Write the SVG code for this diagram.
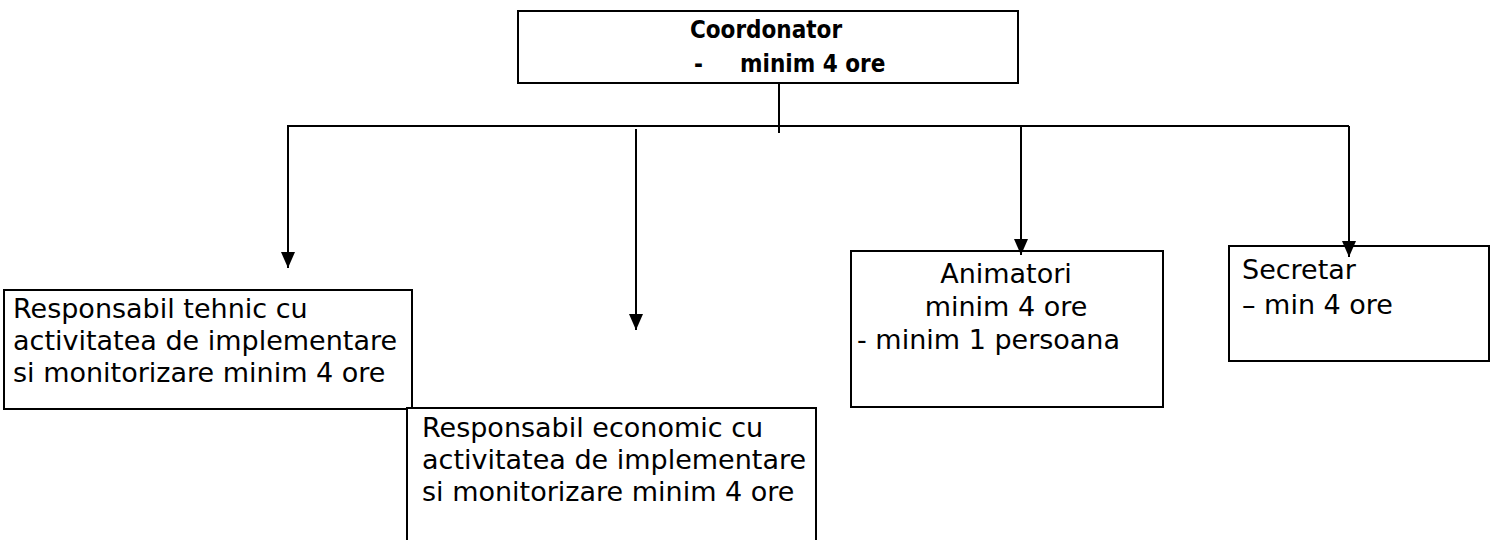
<svg xmlns="http://www.w3.org/2000/svg" width="1499" height="540" viewBox="0 0 1499 540">
<style>
.box{fill:#fff;stroke:#000;stroke-width:2}
.t{font-family:"DejaVu Sans","Liberation Sans",sans-serif;font-size:27px;fill:#000}
.b{font-family:"DejaVu Sans Condensed","DejaVu Sans",sans-serif;font-size:24px;font-weight:bold;fill:#000}
.c{stroke:#000;stroke-width:2;fill:none}
</style>
<defs>
<marker id="ah" viewBox="0 0 16 14" refX="16" refY="7" markerWidth="16" markerHeight="14" markerUnits="userSpaceOnUse" orient="auto">
<path d="M0,0 L16,7 L0,14 Z" fill="#000"/>
</marker>
</defs>
<rect width="1499" height="540" fill="#fff"/>
<g id="coordonator">
<rect class="box" x="518" y="11" width="500" height="72"/>
<text class="b" x="766" y="38" text-anchor="middle">Coordonator</text>
<text class="b" x="694" y="72" font-weight="normal">-</text>
<text class="b" x="740" y="72">minim 4 ore</text>
</g>
<g id="tehnic">
<rect class="box" x="4" y="290" width="408" height="119"/>
<text class="t" x="13" y="318">Responsabil tehnic cu</text>
<text class="t" x="13" y="350">activitatea de implementare</text>
<text class="t" x="13" y="382">si monitorizare minim 4 ore</text>
</g>
<g id="economic">
<path class="box" d="M407,542 V408 H816 V542"/>
<text class="t" x="422" y="437">Responsabil economic cu</text>
<text class="t" x="422" y="469">activitatea de implementare</text>
<text class="t" x="422" y="501">si monitorizare minim 4 ore</text>
</g>
<g id="animatori">
<rect class="box" x="851" y="251" width="312" height="156"/>
<text class="t" x="1006" y="283" text-anchor="middle">Animatori</text>
<text class="t" x="1006" y="316" text-anchor="middle">minim 4 ore</text>
<text class="t" x="857" y="349">- minim 1 persoana</text>
</g>
<g id="secretar">
<rect class="box" x="1229" y="246" width="260" height="115"/>
<text class="t" x="1242" y="279">Secretar</text>
<text class="t" x="1242" y="314">– min 4 ore</text>
</g>
<g id="connectors">
<line class="c" x1="779" y1="83" x2="779" y2="133"/>
<line class="c" x1="287" y1="126" x2="1349" y2="126"/>
<line class="c" x1="288" y1="126" x2="288" y2="268" marker-end="url(#ah)"/>
<line class="c" x1="636" y1="129" x2="636" y2="330" marker-end="url(#ah)"/>
<line class="c" x1="1021" y1="126" x2="1021" y2="255" marker-end="url(#ah)"/>
<line class="c" x1="1349" y1="126" x2="1349" y2="257" marker-end="url(#ah)"/>
</g>
</svg>
